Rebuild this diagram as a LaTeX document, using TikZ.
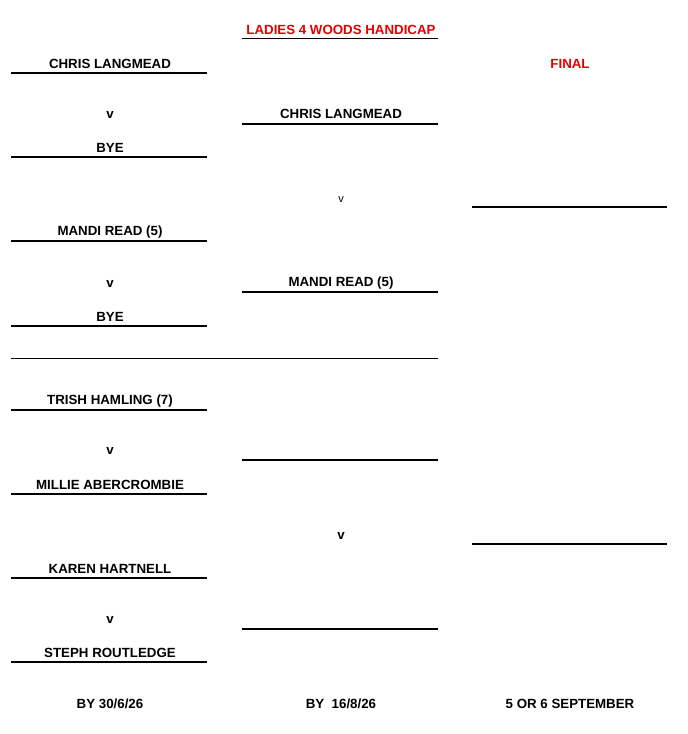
\documentclass[tikz,border=0pt]{standalone}
\usepackage{fontspec}
\setmainfont{Liberation Sans}
\begin{document}
\begin{tikzpicture}[x=1pt,y=-1pt,
  lbl/.style={font=\bfseries\fontsize{13.3}{15}\selectfont, inner sep=0pt, anchor=center},
  red/.style={lbl, text={rgb,255:red,230;green,0;blue,0}},
  rule/.style={line width=2pt},
  thin/.style={line width=0.8pt}]
\useasboundingbox (0,0) rectangle (688,734);
% left column
\foreach \y/\t [count=\i] in {73/CHRIS LANGMEAD,157/BYE,241/MANDI READ (5),326/BYE,410/TRISH HAMLING (7),494/MILLIE ABERCROMBIE,578/KAREN HARTNELL,662/STEPH ROUTLEDGE}{
  \coordinate (la\i) at (11,\y); \coordinate (lb\i) at (207,\y);
  \draw[rule] (la\i) -- (lb\i);
  \node[lbl] (ln\i) at (110,\y-9) {\t};
}
\foreach \y [count=\i] in {115,284,451,620}{\node[lbl] (lv\i) at (110,\y) {v};}
% middle column
\foreach \y [count=\i] in {124,292,460,629}{
  \coordinate (ma\i) at (242,\y); \coordinate (mb\i) at (438,\y);
  \draw[rule] (ma\i) -- (mb\i);
}
\node[lbl] (mn1) at (341,114) {CHRIS LANGMEAD};
\node[lbl] (mn2) at (341,283) {MANDI READ (5)};
\node[font=\fontsize{11}{12}\selectfont, inner sep=0pt] (mv1) at (341,200) {v};
\node[lbl] (mv2) at (341,536) {v};
% title
\node[red] (title) at (341,30) {LADIES 4 WOODS HANDICAP};
\coordinate (ta) at (242,38); \coordinate (tb) at (438,38);
\draw[thin] (ta) -- (tb);
% right
\node[red] (final) at (570,64) {FINAL};
\foreach \y [count=\i] in {207,544}{
  \coordinate (ra\i) at (472,\y); \coordinate (rb\i) at (667,\y);
  \draw[rule] (ra\i) -- (rb\i);
}
% separator
\coordinate (sa) at (11,358); \coordinate (sb) at (438,358);
\draw[line width=0.7pt] (sa) -- (sb);
% dates
\node[lbl] (d1) at (110,704) {BY 30/6/26};
\node[lbl] (d2) at (341,704) {BY\ \ 16/8/26};
\node[lbl] (d3) at (570,704) {5 OR 6 SEPTEMBER};
\end{tikzpicture}
\end{document}
